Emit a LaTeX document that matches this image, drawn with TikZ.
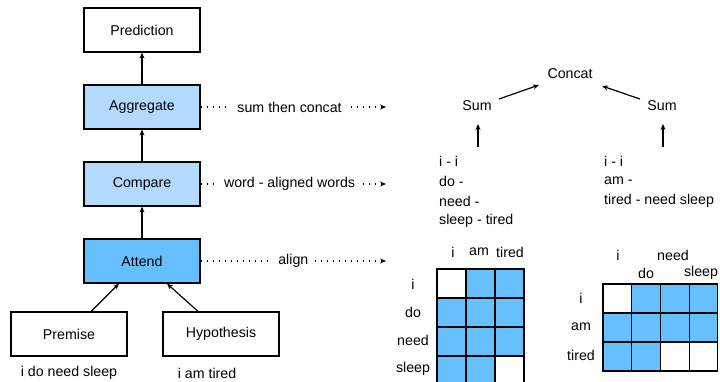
\documentclass[tikz,border=0pt]{standalone}
\usepackage{fontspec}
\setmainfont{Liberation Sans}
\usetikzlibrary{arrows.meta}
\definecolor{lightb}{HTML}{B3D9FF}
\definecolor{darkb}{HTML}{66BFFF}
\begin{document}
\begin{tikzpicture}[x=1pt,y=-1pt,
  every node/.style={font=\fontsize{14.2}{16}\selectfont, inner sep=0pt},
  box/.style={draw, line width=1.2pt, minimum width=116pt, minimum height=44pt, inner sep=0pt},
  arr/.style={line width=1.2pt, -{Stealth[length=6pt,width=5pt]}},
  dots/.style={line width=1.1pt, dash pattern=on 1.4pt off 4.6pt, -{Stealth[length=6pt,width=5pt]}},
  lbl/.style={fill=white, inner xsep=7pt, inner ysep=2pt},
  cellB/.style={draw, line width=1.2pt, fill=darkb},
  cellW/.style={draw, line width=1.2pt, fill=white},
  tx/.style={anchor=west}]
\useasboundingbox (0,0) rectangle (720,382);
\clip (0,0) rectangle (720,382);
% left stack
\node[box] (pred) at (142,30) {Prediction};
\node[box, fill=lightb] (agg) at (142,107) {Aggregate};
\node[box, fill=lightb] (cmp) at (142,184) {Compare};
\node[box, fill=darkb] (att) at (142,261) {Attend};
\node[box] (prem) at (69,334) {Premise};
\node[box] (hyp) at (221,334) {Hypothesis};
\node (premt) at (69,373) {i do need sleep};
\node (hypt) at (207,373) {i am tired};
\draw[arr] (agg) -- (pred);
\draw[arr] (cmp) -- (agg);
\draw[arr] (att) -- (cmp);
\draw[arr] (prem.north -| 91,0) -- (att.south -| 119,0);
\draw[arr] (hyp.north -| 198,0) -- (att.south -| 167,0);
% dotted connectors
\coordinate (e1) at (386,107);
\coordinate (e2) at (386,184);
\coordinate (e3) at (386,261);
\draw[dots] (agg.east) -- (e1) node[pos=0.48, lbl] (l1) {sum then concat};
\draw[dots] (cmp.east) -- (e2) node[pos=0.48, lbl] (l2) {word - aligned words};
\draw[dots] (att.east) -- (e3) node[pos=0.5, lbl] (l3) {align};
% right tree
\node (concat) at (570,74) {Concat};
\node (sum1) at (477,106) {Sum};
\node (sum2) at (662,106) {Sum};
\coordinate (t1) at (499,99);
\coordinate (t2) at (640,99);
\coordinate (h1) at (539,85);
\coordinate (h2) at (602,86);
\draw[arr] (t1) -- (h1);
\draw[arr] (t2) -- (h2);
\coordinate (u1) at (478,147);
\coordinate (u2) at (663,147);
\coordinate (v1) at (478,124);
\coordinate (v2) at (663,124);
\draw[arr] (u1) -- (v1);
\draw[arr] (u2) -- (v2);
\node[tx] (a1) at (439,161) {i - i};
\node[tx] (a2) at (439,181) {do -};
\node[tx] (a3) at (439,201) {need -};
\node[tx] (a4) at (439,221) {sleep - tired};
\node[tx] (b1) at (604,161) {i - i};
\node[tx] (b2) at (604,181) {am -};
\node[tx] (b3) at (604,201) {tired - need sleep};
% matrix 1
\foreach \r/\c/\s in {0/0/cellW,0/1/cellB,0/2/cellB,
                       1/0/cellB,1/1/cellB,1/2/cellB,
                       2/0/cellB,2/1/cellB,2/2/cellB,
                       3/0/cellB,3/1/cellB,3/2/cellW}{
  \draw[\s] (437+29*\c,269+29*\r) rectangle ++(29,29);
}
\node (m1c1) at (453,252) {i};
\node (m1c2) at (479,252) {am};
\node (m1c3) at (510,252) {tired};
\node (m1r1) at (413,284) {i};
\node (m1r2) at (413,312) {do};
\node (m1r3) at (413,340) {need};
\node (m1r4) at (413,369) {sleep};
% matrix 2
\foreach \r/\c/\s in {0/0/cellW,0/1/cellB,0/2/cellB,0/3/cellB,
                       1/0/cellB,1/1/cellB,1/2/cellB,1/3/cellB,
                       2/0/cellB,2/1/cellB,2/2/cellW,2/3/cellW}{
  \draw[\s] (603+28.7*\c,284+29*\r) rectangle ++(28.7,29);
}
\node (m2c1) at (618,255) {i};
\node (m2c2) at (646,273) {do};
\node (m2c3) at (673,255) {need};
\node (m2c4) at (701,273) {sleep};
\node (m2r1) at (581,298) {i};
\node (m2r2) at (581,327) {am};
\node (m2r3) at (581,355) {tired};
\end{tikzpicture}
\end{document}
